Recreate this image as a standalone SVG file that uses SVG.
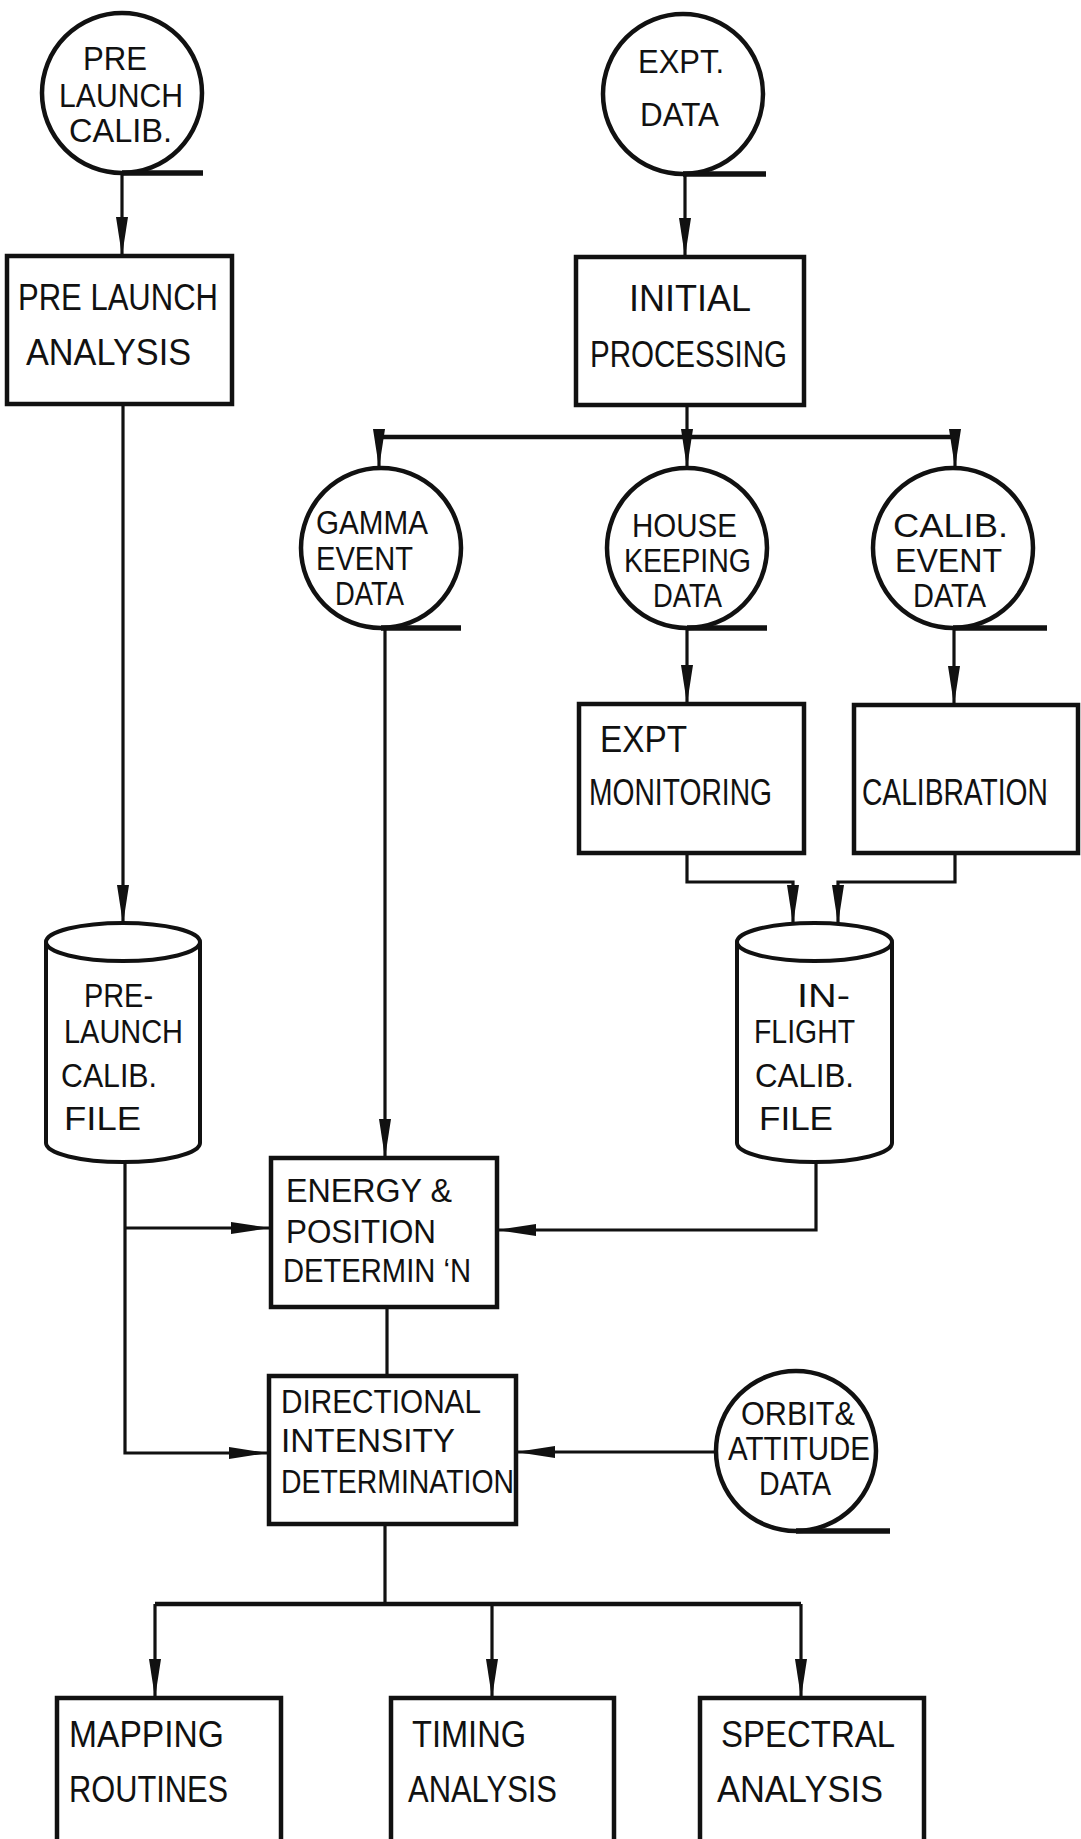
<svg xmlns="http://www.w3.org/2000/svg" width="1081" height="1839" viewBox="0 0 1081 1839">
<style>
  .bg{fill:#ffffff}
  .box{fill:none;stroke:#111;stroke-width:4.5}
  .circ{fill:none;stroke:#111;stroke-width:4.5}
  .tail{fill:none;stroke:#111;stroke-width:5.5}
  .cyl{fill:none;stroke:#111;stroke-width:4}
  .con{fill:none;stroke:#111;stroke-width:3.2}
  .bus{fill:none;stroke:#111;stroke-width:4.5}
  .arr{marker-end:url(#ah)}
  text{font-family:"Liberation Sans","DejaVu Sans",sans-serif;font-size:37px;fill:#111}
  .sm text{font-size:34px}
</style>
<defs>
  <marker id="ah" markerUnits="userSpaceOnUse" viewBox="0 0 40 14" markerWidth="40" markerHeight="14" refX="39" refY="7" orient="auto">
    <path d="M0,1 L39,7 L0,13 Z" fill="#111"/>
  </marker>
</defs>
<rect class="bg" x="0" y="0" width="1081" height="1839"/>

<g id="connectors">
  <path class="con arr" d="M122 173 V256"/>
  <path class="con arr" d="M123 404 V924"/>
  <path class="con arr" d="M685 175 V257"/>
  <path class="con" d="M687 405 V437"/>
  <path class="bus" d="M379 437 H956"/>
  <path class="con arr" d="M379 437 V468"/>
  <path class="con arr" d="M687 437 V468"/>
  <path class="con arr" d="M955 437 V468"/>
  <path class="con arr" d="M385 628 V1158"/>
  <path class="con arr" d="M687 628 V704"/>
  <path class="con arr" d="M954 628 V705"/>
  <path class="con arr" d="M687 853 V882 H793 V924"/>
  <path class="con arr" d="M955 853 V882 H838 V924"/>
  <path class="con arr" d="M816 1162 V1230 H497"/>
  <path class="con arr" d="M125 1162 V1453 H268"/>
  <path class="con arr" d="M125 1228 H270"/>
  <path class="con" d="M387 1307 V1376"/>
  <path class="con arr" d="M716 1452 H516"/>
  <path class="con" d="M385 1524 V1604"/>
  <path class="bus" d="M155 1604 H801"/>
  <path class="con arr" d="M155 1604 V1698"/>
  <path class="con arr" d="M492 1604 V1698"/>
  <path class="con arr" d="M801 1604 V1698"/>
</g>

<g id="prelaunch-calib" class="sm">
  <circle class="circ" cx="122" cy="93" r="80"/>
  <path class="tail" d="M122 173 H203"/>
  <text x="83" y="70" textLength="64" lengthAdjust="spacingAndGlyphs">PRE</text>
  <text x="59" y="107" textLength="124" lengthAdjust="spacingAndGlyphs">LAUNCH</text>
  <text x="69" y="142" textLength="103" lengthAdjust="spacingAndGlyphs">CALIB.</text>
</g>

<g id="expt-data" class="sm">
  <circle class="circ" cx="683" cy="94" r="80"/>
  <path class="tail" d="M683 174 H766"/>
  <text x="638" y="73" textLength="86" lengthAdjust="spacingAndGlyphs">EXPT.</text>
  <text x="640" y="126" textLength="79" lengthAdjust="spacingAndGlyphs">DATA</text>
</g>

<g id="prelaunch-analysis">
  <rect class="box" x="7" y="256" width="225" height="148"/>
  <text x="18" y="310" textLength="200" lengthAdjust="spacingAndGlyphs">PRE LAUNCH</text>
  <text x="26" y="365" textLength="165" lengthAdjust="spacingAndGlyphs">ANALYSIS</text>
</g>

<g id="initial-processing">
  <rect class="box" x="576" y="257" width="228" height="148"/>
  <text x="629" y="311" textLength="122" lengthAdjust="spacingAndGlyphs">INITIAL</text>
  <text x="590" y="367" textLength="197" lengthAdjust="spacingAndGlyphs">PROCESSING</text>
</g>

<g id="gamma-event-data" class="sm">
  <circle class="circ" cx="381" cy="548" r="80"/>
  <path class="tail" d="M381 628 H461"/>
  <text x="316" y="534" textLength="112" lengthAdjust="spacingAndGlyphs">GAMMA</text>
  <text x="316" y="570" textLength="97" lengthAdjust="spacingAndGlyphs">EVENT</text>
  <text x="335" y="605" textLength="69" lengthAdjust="spacingAndGlyphs">DATA</text>
</g>

<g id="housekeeping-data" class="sm">
  <circle class="circ" cx="687" cy="548" r="80"/>
  <path class="tail" d="M687 628 H767"/>
  <text x="632" y="537" textLength="105" lengthAdjust="spacingAndGlyphs">HOUSE</text>
  <text x="624" y="572" textLength="127" lengthAdjust="spacingAndGlyphs">KEEPING</text>
  <text x="653" y="607" textLength="69" lengthAdjust="spacingAndGlyphs">DATA</text>
</g>

<g id="calib-event-data" class="sm">
  <circle class="circ" cx="953" cy="548" r="80"/>
  <path class="tail" d="M953 628 H1047"/>
  <text x="893" y="537" textLength="115" lengthAdjust="spacingAndGlyphs">CALIB.</text>
  <text x="895" y="572" textLength="107" lengthAdjust="spacingAndGlyphs">EVENT</text>
  <text x="913" y="607" textLength="73" lengthAdjust="spacingAndGlyphs">DATA</text>
</g>

<g id="expt-monitoring">
  <rect class="box" x="579" y="704" width="225" height="149"/>
  <text x="600" y="752" textLength="87" lengthAdjust="spacingAndGlyphs">EXPT</text>
  <text x="589" y="805" textLength="183" lengthAdjust="spacingAndGlyphs">MONITORING</text>
</g>

<g id="calibration">
  <rect class="box" x="854" y="705" width="224" height="148"/>
  <text transform="translate(862 805) scale(0.762 1)" x="0" y="0">CALIBRATION</text>
</g>

<g id="prelaunch-calib-file" class="sm">
  <ellipse class="cyl" cx="123" cy="942" rx="77" ry="19"/>
  <path class="cyl" d="M46 942 V1143 A77 19 0 0 0 200 1143 V942"/>
  <text x="84" y="1007" textLength="69" lengthAdjust="spacingAndGlyphs">PRE-</text>
  <text x="64" y="1043" textLength="119" lengthAdjust="spacingAndGlyphs">LAUNCH</text>
  <text x="61" y="1087" textLength="96" lengthAdjust="spacingAndGlyphs">CALIB.</text>
  <text x="64" y="1130" textLength="77" lengthAdjust="spacingAndGlyphs">FILE</text>
</g>

<g id="inflight-calib-file" class="sm">
  <ellipse class="cyl" cx="814.5" cy="942" rx="77.5" ry="19"/>
  <path class="cyl" d="M737 942 V1143 A77.5 19 0 0 0 892 1143 V942"/>
  <text x="797" y="1007" textLength="53" lengthAdjust="spacingAndGlyphs">IN-</text>
  <text x="754" y="1043" textLength="101" lengthAdjust="spacingAndGlyphs">FLIGHT</text>
  <text x="755" y="1087" textLength="99" lengthAdjust="spacingAndGlyphs">CALIB.</text>
  <text x="759" y="1130" textLength="74" lengthAdjust="spacingAndGlyphs">FILE</text>
</g>

<g id="energy-position" class="sm">
  <rect class="box" x="271" y="1158" width="226" height="149"/>
  <text x="286" y="1202" textLength="166" lengthAdjust="spacingAndGlyphs">ENERGY &amp;</text>
  <text x="286" y="1243" textLength="150" lengthAdjust="spacingAndGlyphs">POSITION</text>
  <text x="283" y="1282" textLength="188" lengthAdjust="spacingAndGlyphs">DETERMIN ‘N</text>
</g>

<g id="directional-intensity" class="sm">
  <rect class="box" x="269" y="1376" width="247" height="148"/>
  <text x="281" y="1413" textLength="200" lengthAdjust="spacingAndGlyphs">DIRECTIONAL</text>
  <text x="281" y="1452" textLength="174" lengthAdjust="spacingAndGlyphs">INTENSITY</text>
  <text x="281" y="1493" textLength="233" lengthAdjust="spacingAndGlyphs">DETERMINATION</text>
</g>

<g id="orbit-attitude-data" class="sm">
  <circle class="circ" cx="796" cy="1451" r="80"/>
  <path class="tail" d="M796 1531 H890"/>
  <text x="741" y="1425" textLength="114" lengthAdjust="spacingAndGlyphs">ORBIT&amp;</text>
  <text x="728" y="1460" textLength="142" lengthAdjust="spacingAndGlyphs">ATTITUDE</text>
  <text x="759" y="1495" textLength="72" lengthAdjust="spacingAndGlyphs">DATA</text>
</g>

<g id="mapping-routines">
  <path class="box" d="M57 1845 V1698 H281 V1845"/>
  <text x="69" y="1747" textLength="155" lengthAdjust="spacingAndGlyphs">MAPPING</text>
  <text x="69" y="1802" textLength="159" lengthAdjust="spacingAndGlyphs">ROUTINES</text>
</g>

<g id="timing-analysis">
  <path class="box" d="M391 1845 V1698 H614 V1845"/>
  <text x="412" y="1747" textLength="114" lengthAdjust="spacingAndGlyphs">TIMING</text>
  <text x="408" y="1802" textLength="149" lengthAdjust="spacingAndGlyphs">ANALYSIS</text>
</g>

<g id="spectral-analysis">
  <path class="box" d="M700 1845 V1698 H924 V1845"/>
  <text x="721" y="1747" textLength="174" lengthAdjust="spacingAndGlyphs">SPECTRAL</text>
  <text x="717" y="1802" textLength="166" lengthAdjust="spacingAndGlyphs">ANALYSIS</text>
</g>
</svg>
